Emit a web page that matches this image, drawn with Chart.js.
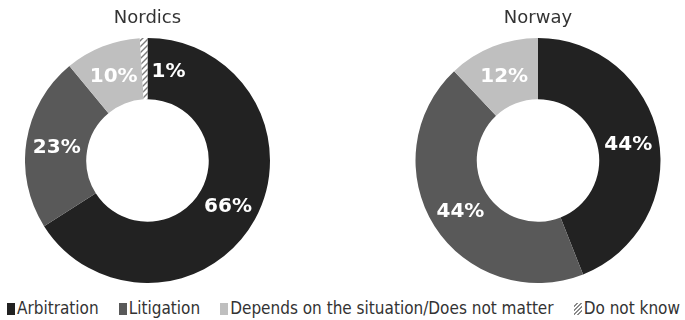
<!DOCTYPE html>
<html lang="en">
<head>
    <meta charset="UTF-8">
    <title>Nordics vs Norway</title>
    <script src="https://cdn.jsdelivr.net/npm/chart.js"></script>
    <style>
        body { margin: 0; background: #fff; width: 685px; height: 320px; position: relative; overflow: hidden; }
        canvas { position: absolute; top: 0; }
        #legend {
            position: absolute; left: 7px; width: 673px; top: 297px;
            display: flex; justify-content: space-between;
            font: 17px "DejaVu Sans Condensed", sans-serif;
            line-height: 22px; color: #333;
        }
        #legend span.sw { display: inline-block; width: 8px; height: 12px; margin-right: 2px; vertical-align: -1px; }
    </style>
</head>
<body>
    <canvas id="nordicsChart" width="245" height="283" style="left:25px"></canvas>
    <canvas id="norwayChart" width="246" height="283" style="left:415px"></canvas>
    <div id="legend"></div>

    <script>
        // data
        const categories = ['Arbitration', 'Litigation', 'Depends on the situation/Does not matter', 'Do not know'];
        const nordicsValues = [66, 23, 10, 1];
        const norwayValues = [44, 44, 12, 0];
        const colors = ['#222222', '#595959', '#bfbfbf', null]; // last one is hatched

        function hatchPattern() {
            const c = document.createElement('canvas');
            c.width = c.height = 6;
            const x = c.getContext('2d');
            x.fillStyle = '#fff';
            x.fillRect(0, 0, 6, 6);
            x.strokeStyle = '#7a7a7a';
            x.lineWidth = 1.4;
            x.beginPath();
            x.moveTo(0, 6); x.lineTo(6, 0);
            x.moveTo(-1, 1); x.lineTo(1, -1);
            x.moveTo(5, 7); x.lineTo(7, 5);
            x.stroke();
            return x.createPattern(c, 'repeat');
        }
        const fills = colors.map(c => c || hatchPattern());

        // white % labels inside the ring
        const sliceLabels = {
            id: 'sliceLabels',
            afterDatasetsDraw(chart) {
                const ctx = chart.ctx;
                const values = chart.data.datasets[0].data;
                chart.getDatasetMeta(0).data.forEach((arc, i) => {
                    const v = values[i];
                    if (!v) return;
                    ctx.save();
                    ctx.font = 'bold 20px "DejaVu Sans"';
                    ctx.fillStyle = '#fff';
                    ctx.textBaseline = 'middle';
                    if (v < 3) {
                        // tiny slice: put the label just past its end
                        const r = (arc.innerRadius + arc.outerRadius) / 2;
                        const a = arc.endAngle;
                        ctx.textAlign = 'left';
                        ctx.fillText(v + '%', arc.x + r * Math.cos(a) + 4, arc.y + r * Math.sin(a) + 3);
                    } else {
                        const p = arc.tooltipPosition();
                        ctx.textAlign = 'center';
                        ctx.fillText(v + '%', p.x, p.y + 2);
                    }
                    ctx.restore();
                });
            }
        };

        function makeDonut(id, title, values) {
            return new Chart(document.getElementById(id), {
                type: 'doughnut',
                data: {
                    labels: categories,
                    datasets: [{ data: values, backgroundColor: fills, borderWidth: 0 }]
                },
                options: {
                    responsive: false,
                    animation: false,
                    cutout: '50%',
                    plugins: {
                        legend: { display: false },
                        tooltip: { enabled: false },
                        title: {
                            display: true,
                            text: title,
                            color: '#333',
                            font: { family: 'DejaVu Sans', size: 18, weight: 'normal' },
                            padding: { top: 8, bottom: 8.4 }
                        }
                    }
                },
                plugins: [sliceLabels]
            });
        }

        makeDonut('nordicsChart', 'Nordics', nordicsValues);
        makeDonut('norwayChart', 'Norway', norwayValues);

        // legend along the bottom
        const legend = document.getElementById('legend');
        legend.innerHTML = categories.map((name, i) => {
            const bg = colors[i] ? colors[i]
                : 'repeating-linear-gradient(135deg, #fff 0 1.5px, #8a8a8a 1.5px 3px)';
            return `<div><span class="sw" style="background:${bg}"></span>${name}</div>`;
        }).join('');
    </script>
</body>
</html>
